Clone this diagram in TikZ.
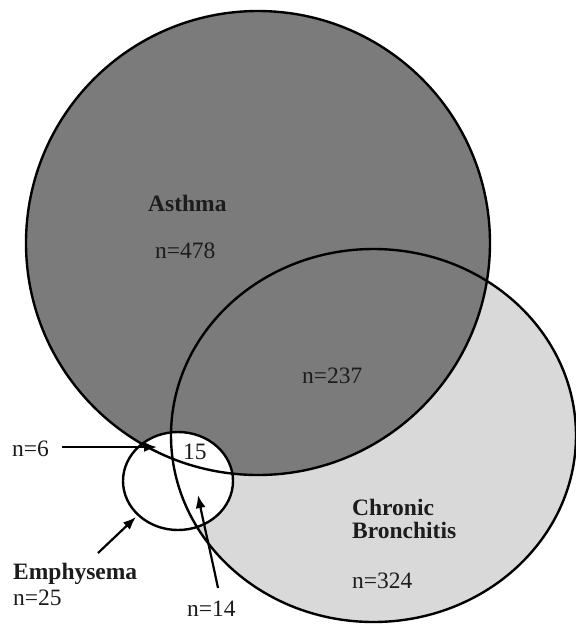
\documentclass[tikz,border=0pt]{standalone}
\usepackage{fontspec}
\setmainfont{Liberation Serif}
\usetikzlibrary{arrows.meta}
\definecolor{asthmagray}{HTML}{7B7B7B}
\definecolor{chronicgray}{HTML}{D9D9D9}
\definecolor{inkgray}{HTML}{1C1C1C}
\begin{document}
\begin{tikzpicture}[x=1pt,y=-1pt,
  outline/.style={draw=black,line width=2.4pt},
  lbl/.style={inner sep=0pt,anchor=base west,text=inkgray,font=\fontsize{23.5}{23}\selectfont},
  blbl/.style={lbl,font=\fontsize{23.5}{23}\selectfont\bfseries},
  pointer/.style={draw=black,line width=2.2pt,-{Latex[length=13pt,width=10pt]}}]
\useasboundingbox (0,0) rectangle (576,625);
% fills
\fill[chronicgray] (373.5,435.5) ellipse [x radius=202.5pt,y radius=186.5pt];
\fill[asthmagray] (258,243) circle [radius=232pt];
\fill[white] (178,481) ellipse [x radius=55pt,y radius=49pt];
% outlines
\draw[outline] (258,243) circle [radius=232pt];
\draw[outline] (373.5,435.5) ellipse [x radius=202.5pt,y radius=186.5pt];
\draw[outline] (178,481) ellipse [x radius=55pt,y radius=49pt];
% labels
\node[blbl] (asthma) at (148,211) {Asthma};
\node[lbl] (n478) at (155,258) {n=478};
\node[lbl] (n237) at (302,383) {n=237};
\node[blbl,align=left,anchor=north west] (chronic) at (352,499) {Chronic\\Bronchitis};
\node[lbl] (n324) at (352,588) {n=324};
\node[blbl] (emph) at (13,579) {Emphysema};
\node[lbl] (n25) at (13,605) {n=25};
\node[lbl] (n14) at (187,616) {n=14};
\node[lbl] (n6) at (12,456) {n=6};
\node[lbl] (n15) at (183,459) {15};
% arrow targets
\coordinate (t6) at (157,447);
\coordinate (s6) at (62,447);
\coordinate (tE) at (136,517);
\coordinate (sE) at (98,553);
\coordinate (t14) at (198,495);
\coordinate (s14) at (218,588);
\draw[pointer] (s6) -- (t6);
\draw[pointer] (sE) -- (tE);
\draw[pointer] (s14) .. controls (210,550) and (203,520) .. (t14);
\end{tikzpicture}
\end{document}
